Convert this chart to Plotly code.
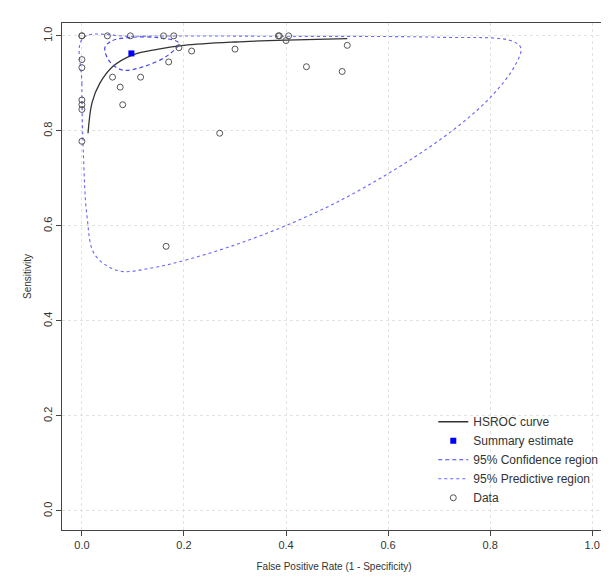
import plotly.graph_objects as go

# observed study points (FPR, sensitivity)
data_fpr = [0, 0, 0.05, 0.095, 0.16, 0.18, 0.385, 0.387, 0.405, 0, 0, 0, 0, 0, 0,
            0.06, 0.075, 0.08, 0.115, 0.17, 0.19, 0.215, 0.30, 0.40, 0.52, 0.44, 0.51,
            0.27, 0.165]
data_sens = [1, 1, 1, 1, 1, 1, 1, 1, 1, 0.95, 0.933, 0.865, 0.855, 0.845, 0.778,
             0.913, 0.892, 0.855, 0.913, 0.945, 0.975, 0.968, 0.972, 0.99, 0.98, 0.935, 0.925,
             0.795, 0.557]

curve_fpr = [0.012, 0.02, 0.035, 0.06, 0.1, 0.15, 0.2, 0.3, 0.4, 0.52]
curve_sens = [0.795, 0.86, 0.9, 0.935, 0.96, 0.972, 0.98, 0.987, 0.991, 0.994]

summary_fpr = [0.097]
summary_sens = [0.963]

conf_fpr = [0.045, 0.06, 0.1, 0.15, 0.19, 0.17, 0.12, 0.08, 0.055, 0.045]
conf_sens = [0.975, 0.99, 0.997, 0.996, 0.985, 0.96, 0.935, 0.928, 0.945, 0.975]

pred_fpr = [0.002, 0.0, 0.003, 0.01, 0.025, 0.07, 0.13, 0.3, 0.5, 0.7, 0.8, 0.85, 0.86,
            0.84, 0.7, 0.4, 0.1, 0.002]
pred_sens = [0.995, 0.9, 0.75, 0.62, 0.54, 0.506, 0.51, 0.56, 0.65, 0.78, 0.87, 0.94, 0.975,
             0.99, 0.997, 0.999, 0.999, 0.995]

ticks = [0, 0.2, 0.4, 0.6, 0.8, 1.0]

fig = go.Figure()
fig.add_trace(go.Scatter(x=curve_fpr, y=curve_sens, mode="lines", name="HSROC curve",
                         line=dict(color="#333333", width=1.3, shape="spline")))
fig.add_trace(go.Scatter(x=summary_fpr, y=summary_sens, mode="markers", name="Summary estimate",
                         marker=dict(color="blue", symbol="square", size=6)))
fig.add_trace(go.Scatter(x=conf_fpr, y=conf_sens, mode="lines", name="95% Confidence region",
                         line=dict(color="#4444ee", width=1.2, dash="4px,3px", shape="spline")))
fig.add_trace(go.Scatter(x=pred_fpr, y=pred_sens, mode="lines", name="95% Predictive region",
                         line=dict(color="#6666ff", width=1.1, dash="dot", shape="spline")))
fig.add_trace(go.Scatter(x=data_fpr, y=data_sens, mode="markers", name="Data",
                         marker=dict(symbol="circle-open", color="#555555", size=6,
                                     line=dict(width=1))))

axis = dict(tickvals=ticks, ticktext=[f"{t:.1f}" for t in ticks], showline=True, mirror=True,
            linecolor="#444", linewidth=1, ticks="outside", ticklen=5, tickcolor="#444",
            zeroline=False, showgrid=True, gridcolor="#e2e2e2", griddash="dot",
            tickfont=dict(size=11, color="#333"))
fig.update_layout(
    width=609, height=577, plot_bgcolor="white", paper_bgcolor="white",
    font=dict(family="Liberation Sans, Arial", size=10, color="#333"),
    margin=dict(l=54, r=11, t=15, b=55),
    xaxis=dict(axis, range=[-0.039, 1.027],
               title=dict(text="False Positive Rate (1 - Specificity)", font=dict(size=10),
                          standoff=12)),
    yaxis=dict(axis, range=[-0.04, 1.027], tickangle=-90,
               title=dict(text="Sensitivity", font=dict(size=10), standoff=8)),
    legend=dict(x=0.995, y=0.035, xanchor="right", yanchor="bottom", bgcolor="rgba(0,0,0,0)",
                font=dict(size=12), tracegroupgap=0, itemwidth=30),
)
fig.write_html("out.html")
